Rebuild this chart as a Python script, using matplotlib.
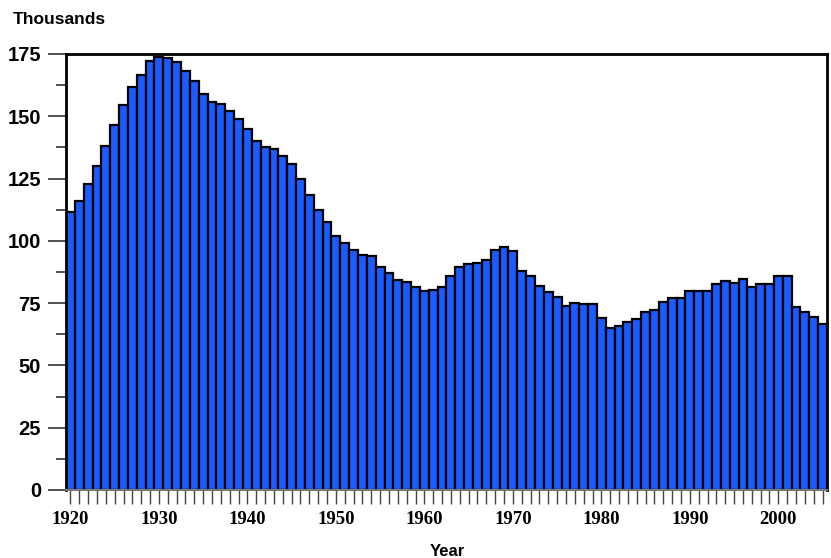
import numpy as np
import matplotlib
matplotlib.use('Agg')
import matplotlib.pyplot as plt
from matplotlib.ticker import MultipleLocator

years = np.arange(1920, 2006)
values = [111.4, 116.1, 122.7, 130.2, 138.0, 146.3, 154.4, 161.7, 166.6, 172.0,
          173.7, 173.3, 171.7, 168.0, 164.1, 159.0, 155.6, 154.8, 152.2, 148.7,
          144.7, 140.1, 137.7, 137.0, 133.9, 130.9, 125.0, 118.5, 112.2, 107.6,
          101.9, 99.1, 96.2, 94.4, 94.0, 89.3, 87.1, 84.4, 83.3, 81.4,
          80.0, 80.4, 81.4, 85.7, 89.3, 90.7, 91.3, 92.4, 96.2, 97.5,
          95.8, 87.7, 85.7, 81.7, 79.3, 77.6, 73.7, 74.9, 74.5, 74.5,
          69.2, 65.2, 66.0, 67.5, 68.6, 71.4, 72.3, 75.4, 76.9, 77.2,
          80.0, 80.0, 80.0, 82.6, 83.7, 83.0, 84.6, 81.6, 82.6, 82.6,
          85.7, 85.7, 73.5, 71.6, 69.6, 66.8]
decade_labels = ['1920', '1930', '1940', '1950', '1960', '1970', '1980', '1990', '2000']
y_labels = ['0', '25', '50', '75', '100', '125', '150', '175']

fig = plt.figure(figsize=(8.31, 5.58), dpi=100)
ax = fig.add_axes([0.0794, 0.1219, 0.9158, 0.7814])

ax.bar(years, values, width=1.0, color='#1a5cff', edgecolor='black', linewidth=1.6)

ax.set_xlim(1919.5, 2005.5)
ax.set_ylim(0, 175)

# y axis
ax.set_yticks(np.arange(0, 176, 25))
ax.set_yticklabels(y_labels, fontfamily='Liberation Sans', fontweight='bold', fontsize=14.5)
ax.yaxis.set_minor_locator(MultipleLocator(12.5))
ax.tick_params(axis='y', which='major', length=13, width=1.2, color='#333333', pad=5)
ax.tick_params(axis='y', which='minor', length=7, width=1.2, color='#333333')

# x axis
ax.set_xticks(np.arange(1920, 2001, 10))
ax.set_xticklabels(decade_labels, fontfamily='Liberation Serif', fontweight='bold', fontsize=13.5)
ax.xaxis.set_minor_locator(MultipleLocator(1))
ax.tick_params(axis='x', which='both', length=10, width=1.0, color='#444444', pad=5)

for side in ['left', 'top', 'right']:
    ax.spines[side].set_linewidth(2)
    ax.spines[side].set_color('black')
ax.spines['bottom'].set_linewidth(1.5)
ax.spines['bottom'].set_color('#777777')

fig.text(13 / 831, 1 - 19 / 558, 'Thousands', fontfamily='Liberation Sans', fontweight='bold',
         fontsize=12.5, ha='left', va='center')
fig.text(447 / 831, 1 - 551 / 558, 'Year', fontfamily='Liberation Sans', fontweight='bold',
         fontsize=12, ha='center', va='center')

fig.savefig('out.png', dpi=100)
